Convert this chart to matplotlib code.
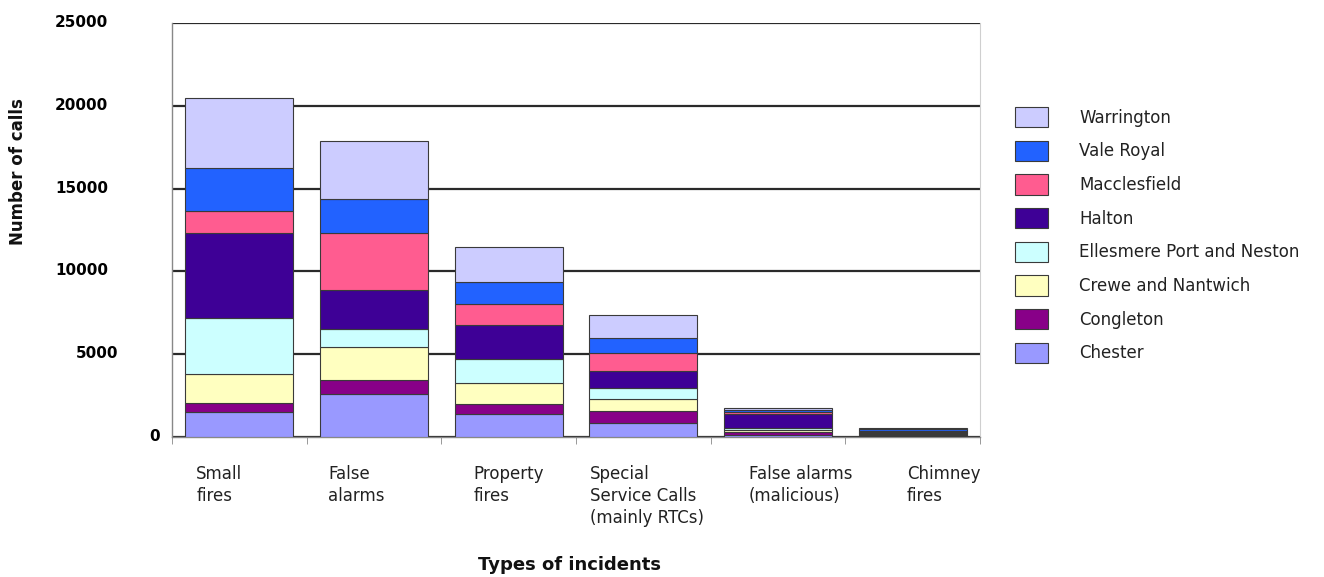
import matplotlib
matplotlib.use("Agg")
import matplotlib.pyplot as plt
import matplotlib.transforms as mtransforms
import numpy as np

# Incident categories (x axis)
categories = [
    "Small\nfires",
    "False\nalarms",
    "Property\nfires",
    "Special\nService Calls\n(mainly RTCs)",
    "False alarms\n(malicious)",
    "Chimney\nfires",
]

# Calls per district, stacked bottom to top
districts = [
    "Chester",
    "Congleton",
    "Crewe and Nantwich",
    "Ellesmere Port and Neston",
    "Halton",
    "Macclesfield",
    "Vale Royal",
    "Warrington",
]
chester = [1510, 2625, 1370, 870, 140, 60]
congleton = [570, 800, 610, 700, 160, 70]
crewe_nantwich = [1750, 2010, 1285, 750, 140, 60]
ellesmere_port_neston = [3330, 1115, 1475, 645, 100, 50]
halton = [5180, 2315, 2015, 1010, 850, 40]
macclesfield = [1310, 3470, 1250, 1105, 120, 110]
vale_royal = [2620, 2020, 1330, 910, 100, 70]
warrington = [4200, 3520, 2115, 1370, 140, 60]

series = [chester, congleton, crewe_nantwich, ellesmere_port_neston,
          halton, macclesfield, vale_royal, warrington]
colors = ["#9999FF", "#880088", "#FFFFC0", "#CCFFFF",
          "#3E0096", "#FF5C90", "#2262FF", "#CCCCFF"]

y_ticks = [0, 5000, 10000, 15000, 20000, 25000]

fig = plt.figure(figsize=(13.24, 5.77), dpi=100)
ax = fig.add_axes([172 / 1324, 1 - 437 / 577, (980 - 172) / 1324, (437 - 23) / 577])

x = np.arange(len(categories))
bottom = np.zeros(len(categories))
handles = []
for name, vals, col in zip(districts, series, colors):
    vals = np.array(vals, dtype=float)
    b = ax.bar(x, vals, width=0.8, bottom=bottom, color=col,
               edgecolor="#3a3a3a", linewidth=0.8, label=name, zorder=3)
    handles.append(b)
    bottom += vals

ax.set_xlim(-0.5, len(categories) - 0.5)
ax.set_ylim(0, 25000)

# Horizontal gridlines
ax.set_yticks(y_ticks)
ax.yaxis.grid(True, color="#2a2a2a", linewidth=1.6, zorder=0)
ax.set_axisbelow(True)

# Spines
ax.spines["top"].set_visible(False)
ax.spines["left"].set_color("#888888")
ax.spines["bottom"].set_color("#888888")
ax.spines["right"].set_color("#cfcfcf")
ax.spines["left"].set_linewidth(1.0)
ax.spines["bottom"].set_linewidth(1.0)

# Category boundary ticks on the x axis
ax.set_xticks(x)
ax.set_xticklabels([])
ax.tick_params(axis="x", which="major", length=0)
ax.set_xticks(np.arange(-0.5, len(categories)), minor=True)
ax.tick_params(axis="x", which="minor", length=5, color="#888888", direction="out")

# Y tick labels
ax.tick_params(axis="y", which="major", length=0, pad=46,
               labelsize=11)
ax.set_yticklabels([str(v) for v in y_ticks], fontweight="bold")
y_shift_px = {0: 52, 5000: 10}
for lab, v in zip(ax.get_yticklabels(), y_ticks):
    dx = y_shift_px.get(v, 0)
    off = mtransforms.ScaledTranslation(dx / 100, 2 / 100, fig.dpi_scale_trans)
    lab.set_transform(lab.get_transform() + off)

# Category labels, left-aligned beneath each bar
label_dx_px = [-43, -46, -35, -53, -29, -6]
for xi, text, dx in zip(x, categories, label_dx_px):
    tr = mtransforms.blended_transform_factory(ax.transData, ax.transAxes) + \
        mtransforms.ScaledTranslation(dx / 100, -28 / 100, fig.dpi_scale_trans)
    ax.text(xi, 0, text, transform=tr, ha="left", va="top",
            fontsize=12, linespacing=1.3, color="#222222")

fig.text(570 / 1324, 1 - 565 / 577, "Types of incidents", ha="center",
         va="center", fontsize=13, fontweight="bold", color="#111111")
fig.text(18 / 1324, 1 - 172 / 577, "Number of calls", rotation=90,
         ha="center", va="center", fontsize=12, fontweight="bold",
         color="#111111")

# Legend, top entry first
leg = fig.legend(handles[::-1], districts[::-1], loc="upper left",
                 bbox_to_anchor=(1015 / 1324, 1 - 107 / 577),
                 frameon=False, fontsize=12, handlelength=2.0,
                 handleheight=1.5, handletextpad=1.85, labelspacing=0.8,
                 borderpad=0, borderaxespad=0)
for t in leg.get_texts():
    t.set_color("#222222")

fig.savefig("out.png", dpi=100)
